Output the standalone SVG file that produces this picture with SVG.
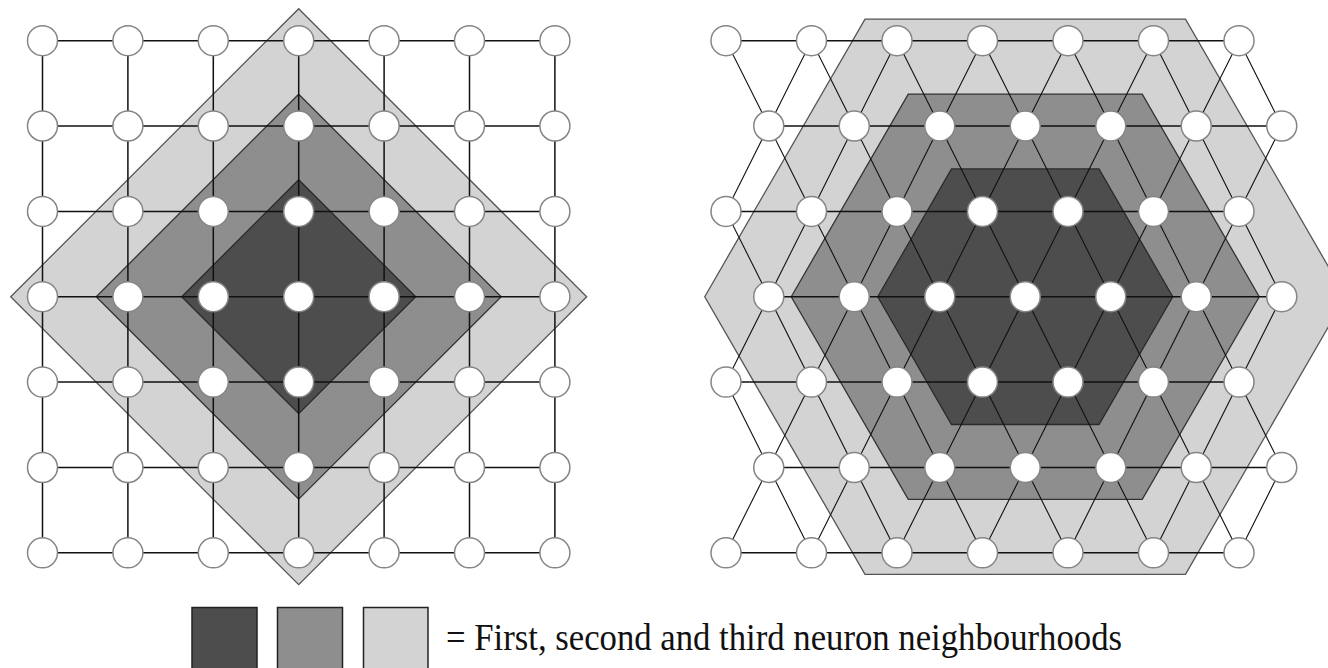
<svg xmlns="http://www.w3.org/2000/svg" width="1328" height="668" viewBox="0 0 1328 668">
<style>
.bg{fill:#fff}
.n1{fill:#4d4d4d;stroke:#2a2a2a;stroke-width:1.3}
.n2{fill:#8e8e8e;stroke:#333;stroke-width:1.3}
.n3{fill:#d3d3d3;stroke:#555;stroke-width:1.3}
.h{fill:none;stroke:#111;stroke-width:1.5}
.d{fill:none;stroke:#111;stroke-width:1.1}
.nd{fill:#fff;stroke:#858585;stroke-width:1.5}
.lg{stroke:#222;stroke-width:1.5}
.tx{font-family:"Liberation Serif","Times New Roman",serif;font-size:37px;fill:#111}
</style>
<rect class="bg" x="0" y="0" width="1328" height="668"/>
<g id="square-neighbourhoods">
<polygon id="sq-third" class="n3" points="298.7,8.7 586.7,296.7 298.7,584.7 10.7,296.7"/>
<polygon id="sq-second" class="n2" points="298.7,94.2 501.2,296.7 298.7,499.2 96.2,296.7"/>
<polygon id="sq-first" class="n1" points="298.7,179.7 415.7,296.7 298.7,413.7 181.7,296.7"/>
</g>
<g id="hex-neighbourhoods">
<polygon id="hex-third" class="n3" points="704.75,296.7 865,19.1 1185.5,19.1 1345.75,296.7 1185.5,574.3 865,574.3"/>
<polygon id="hex-second" class="n2" points="791.25,296.7 908.25,94.05 1142.25,94.05 1259.25,296.7 1142.25,499.35 908.25,499.35"/>
<polygon id="hex-first" class="n1" points="877.75,296.7 951.5,168.9 1099,168.9 1172.75,296.7 1099,424.5 951.5,424.5"/>
</g>
<g id="connectors">
<path class="h" d="M42.5,40.7H554.9 M42.5,126H554.9 M42.5,211.4H554.9 M42.5,296.7H554.9 M42.5,382.1H554.9 M42.5,467.5H554.9 M42.5,552.8H554.9"/>
<path class="h" d="M42.5,40.7V552.8 M127.9,40.7V552.8 M213.3,40.7V552.8 M298.7,40.7V552.8 M384.1,40.7V552.8 M469.5,40.7V552.8 M554.9,40.7V552.8"/>
<path class="h" d="M726,40.7H1239 M768.75,126H1281.75 M726,211.4H1239 M768.75,296.7H1281.75 M726,382.1H1239 M768.75,467.5H1281.75 M726,552.8H1239"/>
<path class="d" d="M726,40.7 L768.75,126 L811.5,40.7 L854.25,126 L897,40.7 L939.75,126 L982.5,40.7 L1025.25,126 L1068,40.7 L1110.75,126 L1153.5,40.7 L1196.25,126 L1239,40.7 L1281.75,126"/>
<path class="d" d="M726,211.4 L768.75,126 L811.5,211.4 L854.25,126 L897,211.4 L939.75,126 L982.5,211.4 L1025.25,126 L1068,211.4 L1110.75,126 L1153.5,211.4 L1196.25,126 L1239,211.4 L1281.75,126"/>
<path class="d" d="M726,211.4 L768.75,296.7 L811.5,211.4 L854.25,296.7 L897,211.4 L939.75,296.7 L982.5,211.4 L1025.25,296.7 L1068,211.4 L1110.75,296.7 L1153.5,211.4 L1196.25,296.7 L1239,211.4 L1281.75,296.7"/>
<path class="d" d="M726,382.1 L768.75,296.7 L811.5,382.1 L854.25,296.7 L897,382.1 L939.75,296.7 L982.5,382.1 L1025.25,296.7 L1068,382.1 L1110.75,296.7 L1153.5,382.1 L1196.25,296.7 L1239,382.1 L1281.75,296.7"/>
<path class="d" d="M726,382.1 L768.75,467.5 L811.5,382.1 L854.25,467.5 L897,382.1 L939.75,467.5 L982.5,382.1 L1025.25,467.5 L1068,382.1 L1110.75,467.5 L1153.5,382.1 L1196.25,467.5 L1239,382.1 L1281.75,467.5"/>
<path class="d" d="M726,552.8 L768.75,467.5 L811.5,552.8 L854.25,467.5 L897,552.8 L939.75,467.5 L982.5,552.8 L1025.25,467.5 L1068,552.8 L1110.75,467.5 L1153.5,552.8 L1196.25,467.5 L1239,552.8 L1281.75,467.5"/>
</g>
<g id="square-nodes">
<g id="s-0-0"><circle class="nd" cx="42.5" cy="40.7" r="15"/></g>
<g id="s-1-0"><circle class="nd" cx="127.9" cy="40.7" r="15"/></g>
<g id="s-2-0"><circle class="nd" cx="213.3" cy="40.7" r="15"/></g>
<g id="s-3-0"><circle class="nd" cx="298.7" cy="40.7" r="15"/></g>
<g id="s-4-0"><circle class="nd" cx="384.1" cy="40.7" r="15"/></g>
<g id="s-5-0"><circle class="nd" cx="469.5" cy="40.7" r="15"/></g>
<g id="s-6-0"><circle class="nd" cx="554.9" cy="40.7" r="15"/></g>
<g id="s-0-1"><circle class="nd" cx="42.5" cy="126" r="15"/></g>
<g id="s-1-1"><circle class="nd" cx="127.9" cy="126" r="15"/></g>
<g id="s-2-1"><circle class="nd" cx="213.3" cy="126" r="15"/></g>
<g id="s-3-1"><circle class="nd" cx="298.7" cy="126" r="15"/></g>
<g id="s-4-1"><circle class="nd" cx="384.1" cy="126" r="15"/></g>
<g id="s-5-1"><circle class="nd" cx="469.5" cy="126" r="15"/></g>
<g id="s-6-1"><circle class="nd" cx="554.9" cy="126" r="15"/></g>
<g id="s-0-2"><circle class="nd" cx="42.5" cy="211.4" r="15"/></g>
<g id="s-1-2"><circle class="nd" cx="127.9" cy="211.4" r="15"/></g>
<g id="s-2-2"><circle class="nd" cx="213.3" cy="211.4" r="15"/></g>
<g id="s-3-2"><circle class="nd" cx="298.7" cy="211.4" r="15"/></g>
<g id="s-4-2"><circle class="nd" cx="384.1" cy="211.4" r="15"/></g>
<g id="s-5-2"><circle class="nd" cx="469.5" cy="211.4" r="15"/></g>
<g id="s-6-2"><circle class="nd" cx="554.9" cy="211.4" r="15"/></g>
<g id="s-0-3"><circle class="nd" cx="42.5" cy="296.7" r="15"/></g>
<g id="s-1-3"><circle class="nd" cx="127.9" cy="296.7" r="15"/></g>
<g id="s-2-3"><circle class="nd" cx="213.3" cy="296.7" r="15"/></g>
<g id="s-3-3"><circle class="nd" cx="298.7" cy="296.7" r="15"/></g>
<g id="s-4-3"><circle class="nd" cx="384.1" cy="296.7" r="15"/></g>
<g id="s-5-3"><circle class="nd" cx="469.5" cy="296.7" r="15"/></g>
<g id="s-6-3"><circle class="nd" cx="554.9" cy="296.7" r="15"/></g>
<g id="s-0-4"><circle class="nd" cx="42.5" cy="382.1" r="15"/></g>
<g id="s-1-4"><circle class="nd" cx="127.9" cy="382.1" r="15"/></g>
<g id="s-2-4"><circle class="nd" cx="213.3" cy="382.1" r="15"/></g>
<g id="s-3-4"><circle class="nd" cx="298.7" cy="382.1" r="15"/></g>
<g id="s-4-4"><circle class="nd" cx="384.1" cy="382.1" r="15"/></g>
<g id="s-5-4"><circle class="nd" cx="469.5" cy="382.1" r="15"/></g>
<g id="s-6-4"><circle class="nd" cx="554.9" cy="382.1" r="15"/></g>
<g id="s-0-5"><circle class="nd" cx="42.5" cy="467.5" r="15"/></g>
<g id="s-1-5"><circle class="nd" cx="127.9" cy="467.5" r="15"/></g>
<g id="s-2-5"><circle class="nd" cx="213.3" cy="467.5" r="15"/></g>
<g id="s-3-5"><circle class="nd" cx="298.7" cy="467.5" r="15"/></g>
<g id="s-4-5"><circle class="nd" cx="384.1" cy="467.5" r="15"/></g>
<g id="s-5-5"><circle class="nd" cx="469.5" cy="467.5" r="15"/></g>
<g id="s-6-5"><circle class="nd" cx="554.9" cy="467.5" r="15"/></g>
<g id="s-0-6"><circle class="nd" cx="42.5" cy="552.8" r="15"/></g>
<g id="s-1-6"><circle class="nd" cx="127.9" cy="552.8" r="15"/></g>
<g id="s-2-6"><circle class="nd" cx="213.3" cy="552.8" r="15"/></g>
<g id="s-3-6"><circle class="nd" cx="298.7" cy="552.8" r="15"/></g>
<g id="s-4-6"><circle class="nd" cx="384.1" cy="552.8" r="15"/></g>
<g id="s-5-6"><circle class="nd" cx="469.5" cy="552.8" r="15"/></g>
<g id="s-6-6"><circle class="nd" cx="554.9" cy="552.8" r="15"/></g>
</g>
<g id="hex-nodes">
<g id="h-0-0"><circle class="nd" cx="726" cy="40.7" r="15"/></g>
<g id="h-1-0"><circle class="nd" cx="811.5" cy="40.7" r="15"/></g>
<g id="h-2-0"><circle class="nd" cx="897" cy="40.7" r="15"/></g>
<g id="h-3-0"><circle class="nd" cx="982.5" cy="40.7" r="15"/></g>
<g id="h-4-0"><circle class="nd" cx="1068" cy="40.7" r="15"/></g>
<g id="h-5-0"><circle class="nd" cx="1153.5" cy="40.7" r="15"/></g>
<g id="h-6-0"><circle class="nd" cx="1239" cy="40.7" r="15"/></g>
<g id="h-0-1"><circle class="nd" cx="768.75" cy="126" r="15"/></g>
<g id="h-1-1"><circle class="nd" cx="854.25" cy="126" r="15"/></g>
<g id="h-2-1"><circle class="nd" cx="939.75" cy="126" r="15"/></g>
<g id="h-3-1"><circle class="nd" cx="1025.25" cy="126" r="15"/></g>
<g id="h-4-1"><circle class="nd" cx="1110.75" cy="126" r="15"/></g>
<g id="h-5-1"><circle class="nd" cx="1196.25" cy="126" r="15"/></g>
<g id="h-6-1"><circle class="nd" cx="1281.75" cy="126" r="15"/></g>
<g id="h-0-2"><circle class="nd" cx="726" cy="211.4" r="15"/></g>
<g id="h-1-2"><circle class="nd" cx="811.5" cy="211.4" r="15"/></g>
<g id="h-2-2"><circle class="nd" cx="897" cy="211.4" r="15"/></g>
<g id="h-3-2"><circle class="nd" cx="982.5" cy="211.4" r="15"/></g>
<g id="h-4-2"><circle class="nd" cx="1068" cy="211.4" r="15"/></g>
<g id="h-5-2"><circle class="nd" cx="1153.5" cy="211.4" r="15"/></g>
<g id="h-6-2"><circle class="nd" cx="1239" cy="211.4" r="15"/></g>
<g id="h-0-3"><circle class="nd" cx="768.75" cy="296.7" r="15"/></g>
<g id="h-1-3"><circle class="nd" cx="854.25" cy="296.7" r="15"/></g>
<g id="h-2-3"><circle class="nd" cx="939.75" cy="296.7" r="15"/></g>
<g id="h-3-3"><circle class="nd" cx="1025.25" cy="296.7" r="15"/></g>
<g id="h-4-3"><circle class="nd" cx="1110.75" cy="296.7" r="15"/></g>
<g id="h-5-3"><circle class="nd" cx="1196.25" cy="296.7" r="15"/></g>
<g id="h-6-3"><circle class="nd" cx="1281.75" cy="296.7" r="15"/></g>
<g id="h-0-4"><circle class="nd" cx="726" cy="382.1" r="15"/></g>
<g id="h-1-4"><circle class="nd" cx="811.5" cy="382.1" r="15"/></g>
<g id="h-2-4"><circle class="nd" cx="897" cy="382.1" r="15"/></g>
<g id="h-3-4"><circle class="nd" cx="982.5" cy="382.1" r="15"/></g>
<g id="h-4-4"><circle class="nd" cx="1068" cy="382.1" r="15"/></g>
<g id="h-5-4"><circle class="nd" cx="1153.5" cy="382.1" r="15"/></g>
<g id="h-6-4"><circle class="nd" cx="1239" cy="382.1" r="15"/></g>
<g id="h-0-5"><circle class="nd" cx="768.75" cy="467.5" r="15"/></g>
<g id="h-1-5"><circle class="nd" cx="854.25" cy="467.5" r="15"/></g>
<g id="h-2-5"><circle class="nd" cx="939.75" cy="467.5" r="15"/></g>
<g id="h-3-5"><circle class="nd" cx="1025.25" cy="467.5" r="15"/></g>
<g id="h-4-5"><circle class="nd" cx="1110.75" cy="467.5" r="15"/></g>
<g id="h-5-5"><circle class="nd" cx="1196.25" cy="467.5" r="15"/></g>
<g id="h-6-5"><circle class="nd" cx="1281.75" cy="467.5" r="15"/></g>
<g id="h-0-6"><circle class="nd" cx="726" cy="552.8" r="15"/></g>
<g id="h-1-6"><circle class="nd" cx="811.5" cy="552.8" r="15"/></g>
<g id="h-2-6"><circle class="nd" cx="897" cy="552.8" r="15"/></g>
<g id="h-3-6"><circle class="nd" cx="982.5" cy="552.8" r="15"/></g>
<g id="h-4-6"><circle class="nd" cx="1068" cy="552.8" r="15"/></g>
<g id="h-5-6"><circle class="nd" cx="1153.5" cy="552.8" r="15"/></g>
<g id="h-6-6"><circle class="nd" cx="1239" cy="552.8" r="15"/></g>
</g>
<g id="legend">
<rect class="lg" x="192" y="607.5" width="65" height="70" fill="#4d4d4d"/>
<rect class="lg" x="277.5" y="607.5" width="65" height="70" fill="#8e8e8e"/>
<rect class="lg" x="363.5" y="607.5" width="64.5" height="70" fill="#d3d3d3"/>
<text class="tx" x="446" y="650" textLength="676" lengthAdjust="spacingAndGlyphs">= First, second and third neuron neighbourhoods</text>
</g>
</svg>
